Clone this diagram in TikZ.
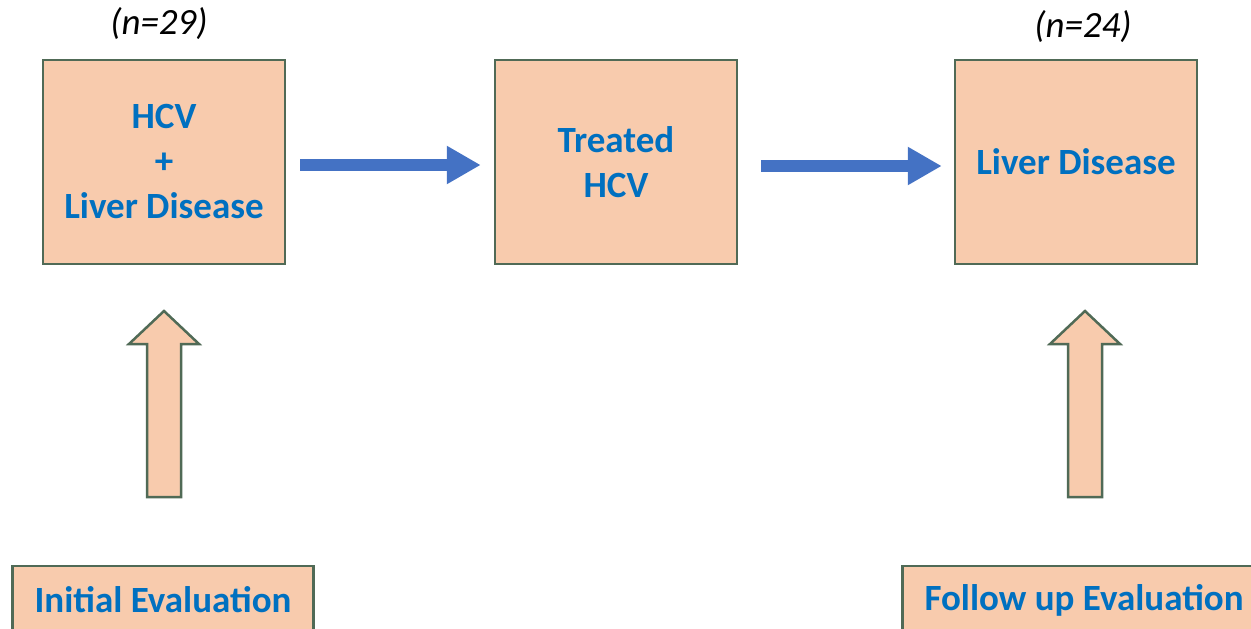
\documentclass[tikz,border=0pt]{standalone}
\usepackage{fontspec}
\setmainfont{Carlito}
\usepackage{tikz}
\usetikzlibrary{positioning}
\usetikzlibrary{arrows.meta}

\definecolor{peach}{RGB}{248,203,173}
\definecolor{edgegreen}{RGB}{80,106,86}
\definecolor{textblue}{RGB}{0,112,192}
\definecolor{arrowblue}{RGB}{68,114,196}

\begin{document}
\begin{tikzpicture}
 [ x=1pt
 , y=-1pt
 , stage/.style={draw=edgegreen, fill=peach, line width=2.5pt, minimum width=242pt, minimum height=204pt, inner sep=0pt, align=center, text=textblue, font=\fontsize{37}{45}\selectfont\bfseries}
 , evalbox/.style={draw=edgegreen, fill=peach, line width=2.5pt, minimum height=68pt, inner xsep=22pt, inner ysep=0pt, text=textblue, font=\fontsize{37}{45}\selectfont\bfseries}
 , count/.style={font=\fontsize{37}{45}\selectfont\itshape}
 , flow/.style={draw=arrowblue, line width=12pt, -{Triangle[length=34pt, width=36pt]}}
 , uparrow/.style={draw=edgegreen, fill=peach, line width=2.5pt, line join=miter}
 ]
  \useasboundingbox (0,0) rectangle (1251,629);
  \clip (0,0) rectangle (1251,629);

  \node [stage] (hcv) at (164,162) {HCV\\+\\Liver Disease};
  \node [stage] (treated) at (616,162) {Treated\\HCV};
  \node [stage] (liver) at (1076,162) {Liver Disease};

  \node [count] (nstart) at (159,24) {(n=29)};
  \node [count] (nend) at (1083,27) {(n=24)};

  \draw [flow] ([xshift=14pt,yshift=-3pt]hcv.east) -- ([xshift=-13pt,yshift=-3pt]treated.west);
  \draw [flow] ([xshift=23pt,yshift=-4pt]treated.east) -- ([xshift=-12pt,yshift=-4pt]liver.west);

  \node [evalbox] (initial) at (163,600) {Initial Evaluation};
  \node [evalbox] (followup) at (1084,600) {Follow up Evaluation};

  \coordinate (initfoot) at (164,497);
  \coordinate (followfoot) at (1085,497);

  % block arrows pointing up to the boxes
  \draw [uparrow] (initfoot) ++(-17,0) -- ++(0,-153) -- ++(-18,0) -- ++(35,-33)
    -- ++(35,33) -- ++(-18,0) -- ++(0,153) -- cycle;
  \draw [uparrow] (followfoot) ++(-17,0) -- ++(0,-153) -- ++(-18,0) -- ++(35,-33)
    -- ++(35,33) -- ++(-18,0) -- ++(0,153) -- cycle;
\end{tikzpicture}
\end{document}
